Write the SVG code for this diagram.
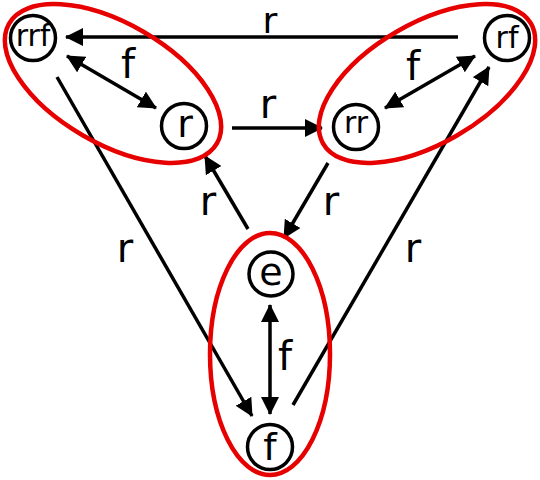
<svg xmlns="http://www.w3.org/2000/svg" width="540" height="480" viewBox="0 0 540 480">
<defs>
<marker id="ah" markerUnits="userSpaceOnUse" viewBox="0 0 18 18" markerWidth="18" markerHeight="18" refX="17" refY="9" orient="auto-start-reverse">
<path d="M0,0 L18,9 L0,18 z" fill="#000"/>
</marker>
<style>
.e{fill:none;stroke:#000;stroke-width:3.5}
.ar{marker-end:url(#ah)}
.bi{marker-start:url(#ah);marker-end:url(#ah)}
.cl{fill:none;stroke:#e60000;stroke-width:4.5}
.n{fill:#fff;stroke:#000;stroke-width:3.5}
text{font-family:"DejaVu Sans",Verdana,sans-serif;fill:#000;text-anchor:middle}
.nl1{font-size:38px}
.nl2{font-size:30px}
.el{font-size:40px}
.top{font-size:36px}
</style>
</defs>
<rect width="540" height="480" fill="#fff"/>
<g id="connectors">
<path class="e ar" d="M458,37 L66,37"/>
<path class="e bi" d="M67,56 L156,108"/>
<path class="e bi" d="M385,108 L475,56"/>
<path class="e ar" d="M232,128 L322,128"/>
<path class="e ar" d="M248,229 L205,156"/>
<path class="e ar" d="M328,163 L284,238"/>
<path class="e ar" d="M57,77 L252,416"/>
<path class="e ar" d="M293,405 L489,67"/>
<path class="e bi" d="M270,305 L270,414"/>
<text class="top" x="270" y="33">r</text>
<text class="el" x="128" y="78">f</text>
<text class="el" x="413" y="80">f</text>
<text class="el" x="268" y="118">r</text>
<text class="el" x="208" y="215">r</text>
<text class="el" x="331" y="215">r</text>
<text class="el" x="125" y="262">r</text>
<text class="el" x="413" y="262">r</text>
<text class="el" x="285" y="370">f</text>
</g>
<g id="clusters">
<ellipse class="cl" cx="113" cy="83.5" rx="120" ry="60" transform="rotate(30 113 83.5)"/>
<ellipse class="cl" cx="427" cy="83.5" rx="120" ry="60" transform="rotate(-30 427 83.5)"/>
<ellipse class="cl" cx="270" cy="354" rx="60" ry="121"/>
</g>
<g id="node-rrf"><circle class="n" cx="33" cy="38" r="22.5"/><text class="nl2" x="33" y="46">rrf</text></g>
<g id="node-r"><circle class="n" cx="184" cy="126" r="22.5"/><text class="nl1" x="185" y="137">r</text></g>
<g id="node-rr"><circle class="n" cx="356" cy="127" r="22.5"/><text class="nl2" x="356" y="133">rr</text></g>
<g id="node-rf"><circle class="n" cx="507" cy="38" r="22.5"/><text class="nl2" x="507" y="48">rf</text></g>
<g id="node-e"><circle class="n" cx="271" cy="274" r="22"/><text class="nl1" x="271" y="285">e</text></g>
<g id="node-f"><circle class="n" cx="270" cy="447" r="22.5"/><text class="nl1" x="270" y="460">f</text></g>
</svg>
